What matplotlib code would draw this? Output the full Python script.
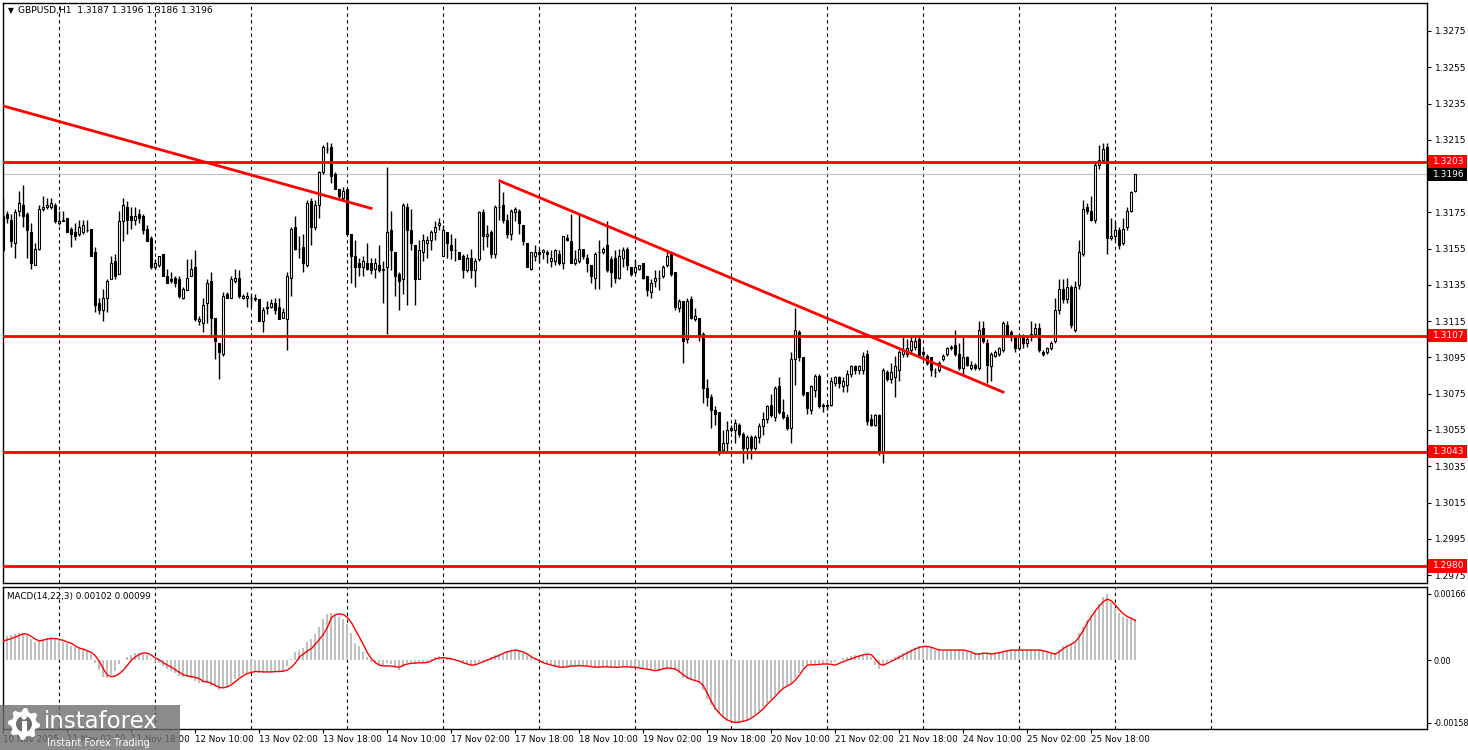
import numpy as np
import matplotlib
matplotlib.use("Agg")
import matplotlib.pyplot as plt
from matplotlib.patches import Rectangle, Circle, Polygon

# ------ Data (GBPUSD H1, prices as pips above 1.3000) ------
open_pips = [
    154, 174, 171, 158, 176, 179, 174, 164, 146, 155,
    177, 178, 178, 179, 169, 170, 172, 166, 164, 163,
    164, 165, 166, 153, 125, 121, 128, 138, 148, 141,
    170, 178, 173, 171, 174, 173, 166, 161, 145, 146,
    152, 140, 138, 139, 138, 128, 132, 140, 145, 115,
    114, 125, 137, 117, 103, 97, 130, 128, 137, 139,
    128, 128, 128, 128, 127, 115, 122, 123, 125, 123,
    117, 116, 139, 167, 155, 156, 146, 181, 167, 179,
    197, 210, 211, 196, 188, 183, 188, 163, 151, 147,
    145, 147, 147, 144, 146, 143, 145, 165, 153, 141,
    138, 178, 165, 157, 138, 153, 158, 160, 164, 168,
    151, 164, 157, 154, 153, 151, 143, 150, 143, 149,
    175, 162, 164, 152, 178, 179, 171, 163, 175, 176,
    168, 158, 144, 151, 153, 153, 153, 148, 148, 152,
    147, 161, 159, 147, 148, 155, 150, 146, 139, 153,
    153, 157, 149, 150, 139, 150, 155, 145, 142, 144,
    147, 140, 131, 137, 139, 140, 146, 152, 142, 122,
    126, 105, 127, 116, 117, 108, 78, 73, 66, 65,
    44, 48, 56, 55, 58, 53, 45, 51, 45, 51,
    57, 61, 69, 62, 79, 65, 62, 56, 94, 109,
    95, 76, 66, 77, 85, 69, 68, 69, 81, 84,
    79, 80, 86, 90, 88, 88, 97, 61, 58, 63,
    43, 87, 83, 84, 88, 97, 97, 99, 101, 105,
    98, 96, 95, 87, 88, 94, 97, 100, 102, 97,
    89, 95, 89, 91, 89, 111, 103, 90, 96, 97,
    99, 113, 109, 106, 100, 106, 103, 108, 108, 111,
    98, 98, 100, 104, 121, 133, 127, 134, 110, 135,
    152, 178, 176, 171, 201, 204, 211, 161, 162, 165,
    158, 167, 176, 187,
]
high_pips = [
    183, 176, 174, 177, 187, 190, 175, 169, 158, 179,
    184, 183, 183, 180, 176, 176, 172, 167, 169, 171,
    171, 171, 166, 156, 128, 133, 138, 151, 152, 176,
    183, 181, 178, 178, 177, 174, 168, 162, 149, 151,
    152, 144, 142, 140, 140, 134, 149, 149, 154, 118,
    128, 138, 142, 117, 103, 131, 131, 140, 144, 143,
    130, 131, 130, 130, 127, 123, 126, 127, 128, 128,
    122, 142, 167, 173, 162, 163, 182, 183, 182, 198,
    212, 214, 213, 197, 188, 189, 188, 163, 160, 150,
    151, 158, 150, 150, 157, 148, 200, 176, 153, 142,
    180, 180, 177, 157, 160, 163, 162, 165, 170, 172,
    168, 164, 163, 161, 153, 152, 152, 155, 150, 176,
    177, 168, 165, 179, 192, 186, 174, 177, 178, 177,
    168, 158, 153, 157, 155, 155, 154, 154, 155, 154,
    162, 163, 174, 154, 174, 155, 152, 146, 153, 160,
    156, 170, 151, 154, 155, 156, 156, 145, 149, 146,
    147, 140, 138, 143, 143, 146, 154, 153, 142, 127,
    126, 128, 129, 122, 117, 109, 83, 75, 68, 65,
    55, 60, 58, 61, 59, 54, 52, 52, 52, 59,
    65, 69, 75, 79, 84, 72, 64, 98, 122, 110,
    95, 76, 80, 86, 86, 70, 70, 84, 85, 85,
    84, 88, 91, 91, 91, 98, 99, 64, 64, 64,
    89, 88, 92, 96, 99, 106, 105, 106, 106, 107,
    99, 97, 95, 89, 93, 97, 101, 102, 110, 103,
    106, 96, 93, 92, 115, 115, 105, 98, 99, 101,
    115, 115, 110, 107, 108, 108, 106, 115, 114, 114,
    99, 101, 104, 128, 138, 138, 139, 135, 137, 160,
    182, 180, 184, 203, 212, 213, 213, 172, 170, 167,
    172, 178, 187, 196,
]
low_pips = [
    153, 169, 156, 150, 173, 167, 150, 144, 146, 154,
    176, 177, 177, 169, 168, 170, 164, 156, 160, 162,
    163, 164, 151, 120, 119, 115, 120, 138, 138, 141,
    159, 163, 166, 168, 169, 163, 159, 144, 144, 145,
    140, 136, 136, 134, 128, 127, 132, 140, 115, 113,
    109, 114, 106, 94, 83, 96, 128, 128, 136, 128,
    127, 123, 123, 126, 115, 109, 119, 122, 119, 116,
    117, 99, 129, 154, 150, 142, 145, 157, 165, 172,
    196, 208, 191, 188, 183, 182, 163, 136, 134, 140,
    140, 143, 141, 139, 142, 125, 108, 143, 129, 121,
    130, 124, 154, 124, 138, 148, 150, 154, 160, 165,
    151, 150, 149, 148, 149, 139, 142, 139, 134, 148,
    154, 156, 150, 150, 171, 169, 161, 160, 170, 163,
    157, 145, 143, 148, 147, 149, 147, 145, 146, 146,
    144, 159, 147, 146, 147, 149, 142, 136, 133, 133,
    152, 142, 134, 136, 138, 145, 143, 140, 141, 143,
    138, 129, 128, 134, 132, 139, 145, 140, 121, 120,
    92, 103, 116, 115, 104, 70, 68, 56, 58, 41,
    43, 43, 54, 48, 51, 37, 39, 39, 44, 48,
    52, 59, 62, 60, 64, 61, 55, 48, 80, 93,
    74, 64, 64, 73, 67, 65, 66, 68, 79, 78,
    76, 76, 84, 86, 86, 86, 58, 57, 57, 41,
    37, 82, 81, 73, 82, 95, 95, 97, 99, 95,
    95, 91, 85, 84, 87, 93, 96, 99, 96, 88,
    86, 90, 88, 88, 88, 103, 81, 82, 95, 96,
    98, 106, 104, 98, 99, 100, 101, 104, 106, 98,
    96, 97, 99, 103, 119, 125, 125, 111, 109, 133,
    151, 174, 170, 169, 199, 202, 152, 160, 160, 155,
    157, 165, 175, 186,
]
close_pips = [
    173, 172, 159, 175, 180, 173, 165, 147, 155, 177,
    178, 179, 180, 170, 170, 171, 164, 163, 162, 167,
    168, 165, 151, 124, 121, 128, 137, 147, 140, 170,
    179, 171, 171, 173, 172, 165, 159, 145, 147, 151,
    140, 136, 137, 136, 129, 133, 139, 144, 116, 116,
    124, 136, 117, 104, 98, 129, 128, 138, 139, 129,
    129, 129, 128, 127, 115, 121, 123, 125, 121, 116,
    120, 140, 166, 155, 155, 147, 180, 167, 179, 197,
    211, 210, 195, 188, 184, 187, 163, 151, 145, 145,
    148, 144, 143, 147, 143, 144, 164, 154, 140, 137,
    179, 165, 158, 138, 154, 160, 160, 164, 167, 169,
    165, 158, 154, 154, 149, 143, 150, 143, 148, 175,
    162, 163, 152, 178, 178, 171, 163, 176, 177, 169,
    159, 145, 153, 153, 152, 154, 152, 150, 154, 147,
    162, 160, 147, 149, 155, 151, 147, 140, 152, 153,
    155, 143, 142, 139, 151, 154, 146, 141, 145, 146,
    139, 132, 136, 139, 139, 145, 151, 141, 123, 126,
    104, 126, 117, 118, 106, 78, 73, 66, 64, 43,
    48, 55, 55, 59, 53, 45, 51, 45, 51, 57,
    61, 68, 63, 78, 65, 62, 56, 94, 110, 95,
    75, 67, 79, 85, 68, 68, 69, 82, 84, 81,
    82, 86, 90, 88, 90, 96, 60, 58, 63, 43,
    88, 83, 87, 90, 98, 99, 100, 104, 104, 96,
    97, 92, 88, 87, 92, 96, 100, 101, 97, 89,
    95, 91, 91, 89, 110, 104, 91, 97, 98, 100,
    114, 107, 106, 100, 106, 103, 105, 106, 111, 99,
    97, 100, 103, 121, 133, 127, 134, 113, 134, 153,
    177, 176, 171, 201, 204, 210, 161, 162, 165, 157,
    166, 176, 186, 196,
]

# MACD(14,22,3): histogram and signal, in units of 0.00001
macd_hist = [
    57, 60, 63, 65, 67, 67, 60, 52, 46, 49,
    52, 55, 57, 54, 50, 46, 42, 35, 32, 29,
    25, 23, 15, -8, -25, -42, -44, -38, -27, -10,
    0, 7, 13, 17, 18, 15, 12, 2, -4, -7,
    -15, -22, -27, -32, -39, -42, -42, -44, -52, -59,
    -59, -59, -65, -69, -75, -69, -65, -57, -49, -42,
    -35, -34, -30, -29, -32, -32, -30, -29, -29, -29,
    -27, -15, 2, 21, 25, 29, 46, 52, 65, 82,
    102, 116, 117, 114, 107, 102, 91, 67, 44, 34,
    21, 7, -4, -8, -13, -13, -8, -10, -18, -25,
    -17, -7, -4, -8, -8, -4, -4, 2, 7, 10,
    8, 7, 4, 2, -2, -7, -13, -13, -13, -4,
    -3, 2, 8, 13, 15, 18, 22, 23, 25, 23,
    18, 13, 8, 2, -2, -7, -10, -13, -17, -18,
    -17, -15, -14, -13, -13, -14, -15, -17, -18, -18,
    -17, -17, -17, -17, -16, -15, -16, -17, -18, -19,
    -20, -22, -23, -25, -27, -23, -21, -21, -25, -32,
    -44, -49, -50, -52, -54, -75, -99, -113, -126, -136,
    -144, -151, -155, -158, -158, -155, -151, -144, -136, -127,
    -119, -109, -99, -88, -80, -71, -65, -59, -44, -32,
    -18, -13, -13, -12, -11, -10, -8, -8, -6, 0,
    4, 7, 9, 12, 13, 15, 15, 7, -13, -23,
    -13, -5, 2, 7, 13, 17, 22, 27, 30, 34,
    34, 32, 29, 25, 24, 23, 23, 23, 25, 25,
    23, 21, 18, 15, 17, 21, 18, 17, 18, 21,
    23, 25, 25, 25, 25, 25, 25, 25, 25, 25,
    23, 20, 17, 17, 25, 34, 38, 40, 44, 67,
    84, 101, 113, 126, 141, 158, 166, 147, 130, 117,
    107, 105, 105, 102,
]
macd_signal = [
    48, 51, 54, 58, 62, 66, 65, 59, 52, 48,
    50, 53, 54, 54, 52, 49, 45, 42, 35, 30,
    27, 23, 19, 10, -4, -23, -38, -42, -40, -34,
    -25, -13, 0, 8, 14, 18, 17, 12, 5, 0,
    -7, -13, -18, -25, -31, -37, -40, -42, -44, -47,
    -54, -55, -59, -64, -69, -70, -67, -62, -54, -46,
    -39, -34, -31, -29, -29, -30, -30, -30, -29, -29,
    -28, -25, -18, -7, 8, 15, 23, 29, 40, 52,
    65, 82, 107, 114, 116, 114, 107, 94, 75, 57,
    38, 18, 3, -7, -13, -15, -15, -15, -17, -18,
    -13, -10, -8, -8, -7, -7, -6, -2, 3, 5,
    6, 4, 3, 0, -3, -7, -10, -13, -12, -8,
    -4, 0, 4, 8, 12, 17, 21, 23, 25, 23,
    20, 15, 8, 3, -2, -7, -10, -13, -15, -18,
    -18, -17, -15, -15, -14, -15, -15, -17, -18, -18,
    -17, -17, -18, -18, -18, -17, -17, -18, -18, -20,
    -22, -23, -25, -27, -25, -22, -20, -21, -23, -29,
    -38, -44, -49, -52, -55, -65, -84, -105, -122, -134,
    -144, -151, -155, -157, -156, -154, -151, -146, -139, -131,
    -122, -111, -101, -91, -80, -71, -65, -60, -50, -38,
    -23, -13, -12, -12, -11, -10, -10, -11, -13, -8,
    -4, 0, 3, 7, 10, 13, 15, 13, 2, -10,
    -13, -8, -3, 2, 7, 13, 18, 23, 28, 32,
    34, 34, 32, 28, 25, 25, 25, 25, 25, 25,
    25, 23, 20, 15, 15, 17, 17, 15, 17, 18,
    21, 23, 25, 25, 25, 25, 25, 25, 25, 25,
    23, 21, 17, 15, 21, 29, 35, 40, 46, 59,
    75, 94, 109, 124, 136, 147, 153, 149, 138, 126,
    116, 109, 105, 99,
]

time_labels = ["10 Nov 2025", "11 Nov 02:00", "11 Nov 18:00", "12 Nov 10:00",
               "13 Nov 02:00", "13 Nov 18:00", "14 Nov 10:00", "17 Nov 02:00",
               "17 Nov 18:00", "18 Nov 10:00", "19 Nov 02:00", "19 Nov 18:00",
               "20 Nov 10:00", "21 Nov 02:00", "21 Nov 18:00", "24 Nov 10:00",
               "25 Nov 02:00", "25 Nov 18:00"]
label_bars = [16 * k for k in range(len(time_labels))]
day_bars = [14 + 24 * k for k in range(13)]  # midnight separators

levels = [1.3203, 1.3107, 1.3043, 1.2980]
last_price = 1.3196
price_ticks = [1.2975 + 0.002 * k for k in range(16)]

# trend lines: (bar, price) end points
trend1 = [(-0.1, 1.32337), (91.9, 1.31772)]
trend2 = [(124.1, 1.31923), (249.9, 1.30759)]

opens = 1.3 + np.array(open_pips) / 10000
closes = 1.3 + np.array(close_pips) / 10000
highs = np.maximum(1.3 + np.array(high_pips) / 10000, np.maximum(opens, closes))
lows = np.minimum(1.3 + np.array(low_pips) / 10000, np.minimum(opens, closes))
hist = np.array(macd_hist) * 1e-5
signal = np.array(macd_signal) * 1e-5
bars = np.arange(len(opens))

# ------ Figure layout (pixel based) ------
W, H = 1468, 750
fig = plt.figure(figsize=(W / 100, H / 100), dpi=100)
fig.patch.set_facecolor("white")


def box(left, top, right, bottom):
    return [left / W, 1 - bottom / H, (right - left) / W, (bottom - top) / H]


ax = fig.add_axes(box(3, 3, 1427, 583))
ax2 = fig.add_axes(box(3, 587, 1427, 729))
XMIN, XMAX = -0.125, 355.9

# ------ Main price panel ------
ax.set_xlim(XMIN, XMAX)
ax.set_ylim(1.297061, 1.329044)
for b in day_bars:
    ax.axvline(b, color="black", lw=0.8, ls=(0, (3, 3)), zorder=1)

ax.vlines(bars, lows, highs, color="black", lw=1, zorder=2)
up = closes >= opens
ax.bar(bars, closes - opens, bottom=opens, width=0.5,
       color=np.where(up, "white", "black"), edgecolor="black", lw=0.8, zorder=3)

for lv in levels:
    ax.axhline(lv, color="#ff0000", lw=2, zorder=4)
ax.axhline(last_price, color="#c0c0c0", lw=0.8, zorder=1)
for (x0, y0), (x1, y1) in [trend1, trend2]:
    ax.plot([x0, x1], [y0, y1], color="#ff0000", lw=2, zorder=4)

ax.set_xticks([])
ax.yaxis.tick_right()
ax.set_yticks(price_ticks)
ax.set_yticklabels([f"{p:.4f}" for p in price_ticks])
ax.tick_params(axis="y", length=3, width=0.8, labelsize=6.5, pad=3, color="black")

tr = ax.get_yaxis_transform()
for lv, bg in [(l, "#ff0000") for l in levels] + [(last_price, "black")]:
    ax.add_patch(Rectangle((1.0008, lv - 0.00036), 0.0275, 0.00072, transform=tr,
                           facecolor=bg, edgecolor="none", clip_on=False, zorder=6))
    ax.text(1.0045, lv, f"{lv:.4f}", transform=tr, color="white", fontsize=6.5,
            va="center", ha="left", zorder=7, clip_on=False)

ax.text(5 / 1424, 1 - 8 / 580, "\u25bc", transform=ax.transAxes, fontsize=5.5,
        va="center", ha="left")
ax.text(15 / 1424, 1 - 8 / 580, "GBPUSD,H1  1.3187 1.3196 1.3186 1.3196",
        transform=ax.transAxes, fontsize=6.6, va="center", ha="left")

# ------ MACD panel ------
ax2.set_xlim(XMIN, XMAX)
ax2.set_ylim(-0.001735, 0.001836)
for b in day_bars:
    ax2.axvline(b, color="black", lw=0.8, ls=(0, (3, 3)), zorder=1)
ax2.bar(bars, hist, width=0.5, color="#c0c0c0", edgecolor="none", zorder=2)
ax2.plot(bars, signal, color="#ff0000", lw=1, zorder=3)

ax2.yaxis.tick_right()
ax2.set_yticks([0.00166, 0.0, -0.00158])
ax2.set_yticklabels(["0.00166", "0.00", "-0.00158"])
ax2.tick_params(axis="y", length=3, width=0.8, labelsize=5.8, pad=2)
ax2.set_xticks(label_bars)
ax2.set_xticklabels(time_labels, ha="left")
ax2.tick_params(axis="x", length=3, width=0.8, labelsize=6.3, pad=1)
ax2.text(4 / 1424, 1 - 9 / 142, "MACD(14,22,3) 0.00102 0.00099",
         transform=ax2.transAxes, fontsize=6.3, va="center", ha="left")

for a in (ax, ax2):
    for s in a.spines.values():
        s.set_color("black")
        s.set_linewidth(1)

# ------ Watermark ------
wm = fig.add_axes([0, 0, 180 / W, 45 / H])
wm.set_xlim(0, 180)
wm.set_ylim(45, 0)
wm.axis("off")
wm.add_patch(Rectangle((0, 0), 180, 45, facecolor="#6e6e6e", alpha=0.8, edgecolor="none"))
ang = np.linspace(0, 2 * np.pi, 33)[:-1]
rad = np.where(np.arange(32) % 4 < 2, 16, 12.5)
wm.add_patch(Polygon(np.c_[24 + rad * np.cos(ang), 19 + rad * np.sin(ang)],
                     closed=True, facecolor="white", edgecolor="none"))
wm.add_patch(Circle((24, 19), 8, facecolor="#6e6e6e", edgecolor="none"))
wm.add_patch(Rectangle((21.5, 16), 5, 14, facecolor="white", edgecolor="none"))
wm.add_patch(Circle((24, 12), 2.6, facecolor="white", edgecolor="none"))
wm.text(44, 17, "instaforex", color="white", fontsize=16.5, va="center", ha="left")
wm.text(47, 38, "Instant Forex Trading", color="white", fontsize=7, va="center", ha="left")

fig.savefig("out.png", dpi=100)
